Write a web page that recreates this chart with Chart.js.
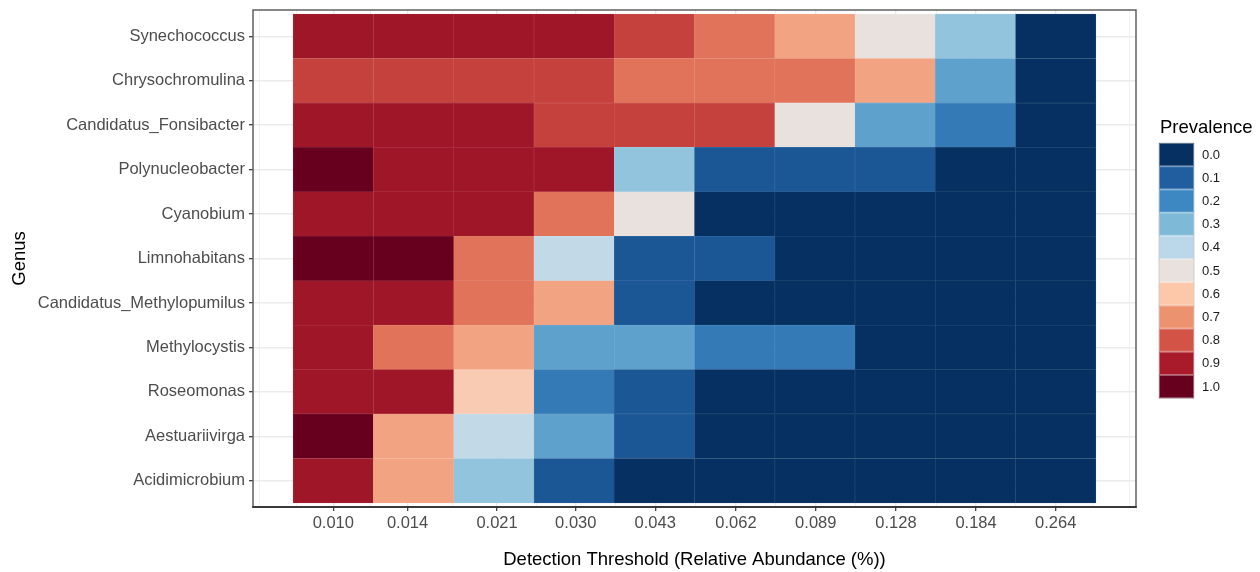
<!DOCTYPE html>
<html>
<head>
<meta charset="utf-8">
<script src="https://cdn.jsdelivr.net/npm/chart.js@4/dist/chart.umd.min.js"></script>
<style>
  html, body { margin: 0; padding: 0; background: #ffffff; }
  #wrap { position: relative; width: 1260px; height: 572px; }
</style>
</head>
<body>
<div id="wrap"><canvas id="heat" width="1260" height="572"></canvas></div>
<script>
// ---- data -------------------------------------------------------------
const genera = [
  'Synechococcus', 'Chrysochromulina', 'Candidatus_Fonsibacter', 'Polynucleobacter',
  'Cyanobium', 'Limnohabitans', 'Candidatus_Methylopumilus', 'Methylocystis',
  'Roseomonas', 'Aestuariivirga', 'Acidimicrobium'
];

// detection thresholds (relative abundance, %), log-spaced
const thresholds = [0.01000, 0.01439, 0.02070, 0.02978, 0.04284, 0.06163, 0.08867, 0.12757, 0.18352, 0.26400];
const thresholdLabels = ['0.010', '0.014', '0.021', '0.030', '0.043', '0.062', '0.089', '0.128', '0.184', '0.264'];

// prevalence of each genus at each threshold
const synechococcus          = [0.917, 0.917, 0.917, 0.917, 0.833, 0.750, 0.667, 0.500, 0.333, 0.000];
const chrysochromulina       = [0.833, 0.833, 0.833, 0.833, 0.750, 0.750, 0.750, 0.667, 0.250, 0.000];
const candidatusFonsibacter  = [0.917, 0.917, 0.917, 0.833, 0.833, 0.833, 0.500, 0.250, 0.167, 0.000];
const polynucleobacter       = [1.000, 0.917, 0.917, 0.917, 0.333, 0.083, 0.083, 0.083, 0.000, 0.000];
const cyanobium              = [0.917, 0.917, 0.917, 0.750, 0.500, 0.000, 0.000, 0.000, 0.000, 0.000];
const limnohabitans          = [1.000, 1.000, 0.750, 0.417, 0.083, 0.083, 0.000, 0.000, 0.000, 0.000];
const candidatusMethylopumilus = [0.917, 0.917, 0.750, 0.667, 0.083, 0.000, 0.000, 0.000, 0.000, 0.000];
const methylocystis          = [0.917, 0.750, 0.667, 0.250, 0.250, 0.167, 0.167, 0.000, 0.000, 0.000];
const roseomonas             = [0.917, 0.917, 0.583, 0.167, 0.083, 0.000, 0.000, 0.000, 0.000, 0.000];
const aestuariivirga         = [1.000, 0.667, 0.417, 0.250, 0.083, 0.000, 0.000, 0.000, 0.000, 0.000];
const acidimicrobium         = [0.917, 0.667, 0.333, 0.083, 0.000, 0.000, 0.000, 0.000, 0.000, 0.000];

const prevalenceRows = [
  synechococcus, chrysochromulina, candidatusFonsibacter, polynucleobacter, cyanobium,
  limnohabitans, candidatusMethylopumilus, methylocystis, roseomonas, aestuariivirga, acidimicrobium
];

// legend breaks and the diverging colour ramp anchored on them
const legendBreaks = [0.0, 0.1, 0.2, 0.3, 0.4, 0.5, 0.6, 0.7, 0.8, 0.9, 1.0];
const rampColours = ['#053061', '#205ea0', '#3d88c2', '#7ebad8', '#bad8ea', '#e8e1dd',
                     '#fdc7aa', '#ed926e', '#d35446', '#a91b2a', '#67001f'];

// ---- helpers ----------------------------------------------------------
function hexToRgb(h) {
  const n = parseInt(h.slice(1), 16);
  return [(n >> 16) & 255, (n >> 8) & 255, n & 255];
}
const rampRgb = rampColours.map(hexToRgb);

function prevalenceRgb(v) {
  const x = Math.max(0, Math.min(1, v));
  let i = 0;
  while (i < legendBreaks.length - 2 && x > legendBreaks[i + 1]) i++;
  const t = (x - legendBreaks[i]) / (legendBreaks[i + 1] - legendBreaks[i]);
  const a = rampRgb[i], b = rampRgb[i + 1];
  return a.map((av, k) => av + (b[k] - av) * t);
}
function rgbString(c) {
  return `rgb(${Math.round(c[0])},${Math.round(c[1])},${Math.round(c[2])})`;
}
function prevalenceColour(v) { return rgbString(prevalenceRgb(v)); }
// faint outline: the fill lightened slightly towards white
function outlineColour(v) {
  return rgbString(prevalenceRgb(v).map(c => c + (255 - c) * 0.13));
}

// tile edges: geometric midpoints between neighbouring thresholds
const logT = thresholds.map(Math.log10);
const tileEdges = [];
for (let i = 0; i <= logT.length; i++) {
  let e;
  if (i === 0) e = logT[0] - (logT[1] - logT[0]) / 2;
  else if (i === logT.length) e = logT[i - 1] + (logT[i - 1] - logT[i - 2]) / 2;
  else e = (logT[i - 1] + logT[i]) / 2;
  tileEdges.push(e);
}
const logSpan = tileEdges[tileEdges.length - 1] - tileEdges[0];
const xMin = Math.pow(10, tileEdges[0] - 0.05 * logSpan);
const xMax = Math.pow(10, tileEdges[tileEdges.length - 1] + 0.05 * logSpan);

// cells for the floating-bar heatmap
const cells = [];
const cellColours = [];
const cellOutlines = [];
prevalenceRows.forEach((row, r) => {
  row.forEach((v, c) => {
    cells.push({ x: [Math.pow(10, tileEdges[c]), Math.pow(10, tileEdges[c + 1])], y: r, v });
    cellColours.push(prevalenceColour(v));
    cellOutlines.push(outlineColour(v));
  });
});

// vertical grid: major at labelled thresholds, minor half-way between (and one step beyond)
const majorLog = thresholdLabels.map(s => Math.log10(Number(s)));
const stepLog = majorLog[1] - majorLog[0];
const extLog = [majorLog[0] - stepLog, ...majorLog, majorLog[majorLog.length - 1] + stepLog];
const xTickDefs = [];
for (let i = 0; i < extLog.length; i++) {
  const isMajor = i > 0 && i < extLog.length - 1;
  xTickDefs.push({ value: Math.pow(10, extLog[i]), caption: isMajor ? thresholdLabels[i - 1] : '', minorLine: !isMajor });
  if (i < extLog.length - 1) {
    xTickDefs.push({ value: Math.pow(10, (extLog[i] + extLog[i + 1]) / 2), caption: '', minorLine: true });
  }
}
const xTicksInRange = xTickDefs.filter(t => t.value > xMin && t.value < xMax);

const FONT = '"Liberation Sans", Arial, Helvetica, sans-serif';
const rowPad = 0.09;

// panel border and colour legend
const panelAndLegend = {
  id: 'panelAndLegend',
  afterDraw(chart) {
    const { ctx, chartArea: a } = chart;
    ctx.save();
    ctx.strokeStyle = '#555555';
    ctx.lineWidth = 1.4;
    ctx.strokeRect(a.left, a.top, a.right - a.left, a.bottom - a.top);
    ctx.strokeStyle = '#222222';
    ctx.lineWidth = 1.6;
    ctx.beginPath();
    ctx.moveTo(a.left - 0.8, a.bottom);
    ctx.lineTo(a.right + 0.8, a.bottom);
    ctx.stroke();

    // legend
    const lx = a.right + 23;
    ctx.fillStyle = '#000000';
    ctx.font = `18.5px ${FONT}`;
    ctx.textAlign = 'left';
    ctx.textBaseline = 'middle';
    ctx.fillText('Prevalence', lx + 1, 128);
    const keyW = 35, keyH = 23.2, top = 143;
    legendBreaks.forEach((b, i) => {
      const y = top + i * keyH;
      ctx.fillStyle = prevalenceColour(b);
      ctx.fillRect(lx, y, keyW, keyH);
      ctx.strokeStyle = 'rgba(255,255,255,0.35)';
      ctx.lineWidth = 1;
      ctx.strokeRect(lx + 0.5, y + 0.5, keyW - 1, keyH - 1);
      ctx.fillStyle = '#1a1a1a';
      ctx.font = `13px ${FONT}`;
      ctx.fillText(b.toFixed(1), lx + keyW + 8, y + keyH / 2 + 0.5);
    });
    ctx.strokeStyle = 'rgba(120,120,120,0.35)';
    ctx.lineWidth = 1;
    ctx.strokeRect(lx, top, keyW, keyH * legendBreaks.length);
    ctx.restore();
  }
};

Chart.defaults.font.family = FONT;

new Chart(document.getElementById('heat'), {
  type: 'bar',
  data: {
    datasets: [{
      data: cells,
      backgroundColor: cellColours,
      borderColor: cellOutlines,
      borderWidth: 0.6,
      borderSkipped: false,
      barPercentage: 1,
      categoryPercentage: 1
    }]
  },
  options: {
    indexAxis: 'y',
    responsive: false,
    animation: false,
    events: [],
    layout: { padding: { left: 0, top: 10, right: 124, bottom: 0 } },
    plugins: { legend: { display: false }, tooltip: { enabled: false } },
    scales: {
      x: {
        type: 'logarithmic',
        min: xMin,
        max: xMax,
        afterBuildTicks(scale) { scale.ticks = xTicksInRange.map(t => ({ ...t })); },
        afterFit(scale) { scale.height = 65; scale.paddingLeft = 0; scale.paddingRight = 0; },
        border: { display: false },
        grid: {
          color: '#ebebeb',
          lineWidth: ctx => (ctx.tick && ctx.tick.minorLine ? 0.7 : 1.4),
          drawTicks: true,
          tickLength: 4,
          tickColor: ctx => (ctx.tick && ctx.tick.minorLine ? 'rgba(0,0,0,0)' : '#333333'),
          tickWidth: 1.2
        },
        ticks: {
          autoSkip: false,
          maxRotation: 0,
          padding: 3,
          color: '#4d4d4d',
          font: { size: 16.5 },
          callback: (value, index, ticks) => ticks[index].caption
        },
        title: {
          display: true,
          text: 'Detection Threshold (Relative Abundance (%))',
          color: '#000000',
          font: { size: 18.5 },
          padding: { top: 0, bottom: 1 }
        }
      },
      y: {
        type: 'linear',
        reverse: true,
        offset: false,
        min: -0.5 - rowPad,
        max: genera.length - 0.5 + rowPad,
        afterBuildTicks(scale) { scale.ticks = genera.map((g, i) => ({ value: i })); },
        afterFit(scale) { scale.width = 253; scale.paddingTop = 0; scale.paddingBottom = 0; },
        border: { display: false },
        grid: {
          offset: false,
          color: '#ebebeb',
          lineWidth: 1.4,
          drawTicks: true,
          tickLength: 4,
          tickColor: '#333333',
          tickWidth: 1.2
        },
        ticks: {
          autoSkip: false,
          padding: 4,
          color: '#4d4d4d',
          font: { size: 16.5 },
          callback: value => genera[value]
        },
        title: {
          display: true,
          text: 'Genus',
          color: '#000000',
          font: { size: 18.5 },
          padding: { top: 9, bottom: 0 }
        }
      }
    }
  },
  plugins: [panelAndLegend]
});
</script>
</body>
</html>
